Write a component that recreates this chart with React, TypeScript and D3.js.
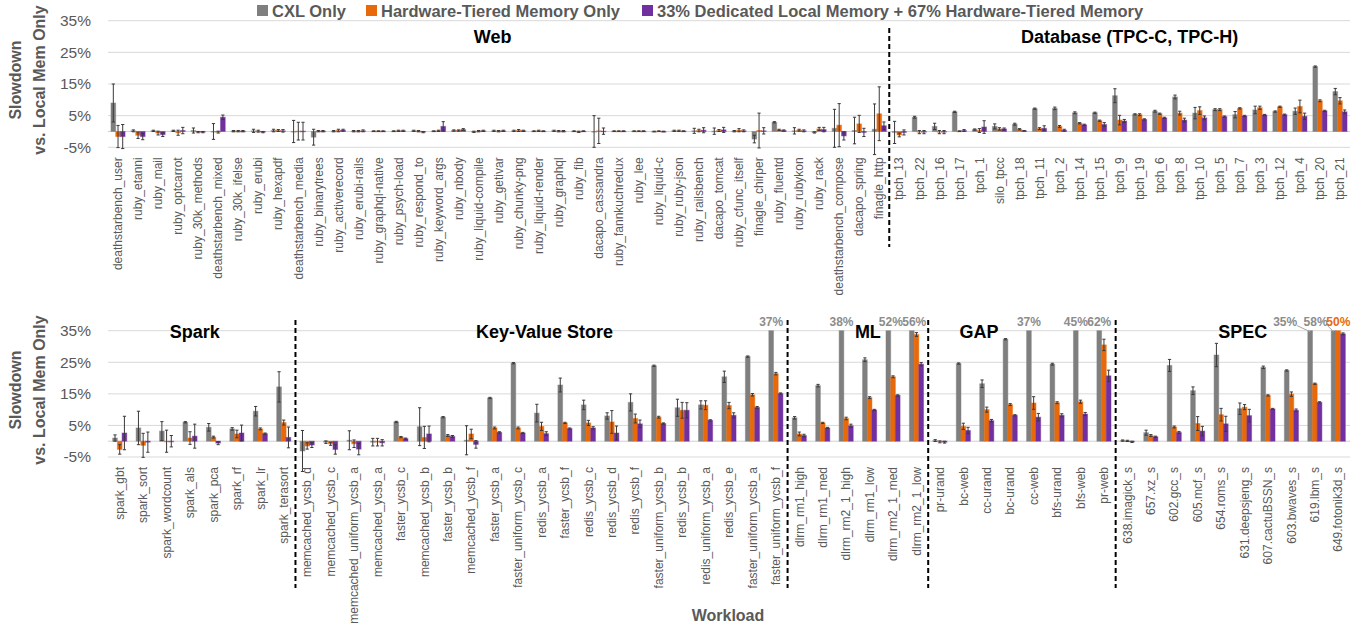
import React from 'react';
import * as d3 from 'd3';

const seriesNames = ['CXL Only', 'Hardware-Tiered Memory Only', '33% Dedicated Local Memory + 67% Hardware-Tiered Memory'];
const colors = ['#7F7F7F', '#E8690A', '#7030A0'];
const yTicks = [-5, 5, 15, 25, 35];

// ---------- Top panel ----------
const topCategories = [
  'deathstarbench_user', 'ruby_etanni', 'ruby_mail', 'ruby_optcarrot', 'ruby_30k_methods', 'deathstarbench_mixed',
  'ruby_30k_ifelse', 'ruby_erubi', 'ruby_hexapdf', 'deathstarbench_media', 'ruby_binarytrees', 'ruby_activerecord',
  'ruby_erubi-rails', 'ruby_graphql-native', 'ruby_psych-load', 'ruby_respond_to', 'ruby_keyword_args', 'ruby_nbody',
  'ruby_liquid-compile', 'ruby_getivar', 'ruby_chunky-png', 'ruby_liquid-render', 'ruby_graphql', 'ruby_fib',
  'dacapo_cassandra', 'ruby_fannkuchredux', 'ruby_lee', 'ruby_liquid-c', 'ruby_ruby-json', 'ruby_railsbench',
  'dacapo_tomcat', 'ruby_cfunc_itself', 'finagle_chirper', 'ruby_fluentd', 'ruby_rubykon', 'ruby_rack',
  'deathstarbench_compose', 'dacapo_spring', 'finagle_http',
  'tpch_13', 'tpch_22', 'tpch_16', 'tpch_17', 'tpch_1', 'silo_tpcc', 'tpch_18', 'tpch_11', 'tpch_2', 'tpch_14',
  'tpch_15', 'tpch_9', 'tpch_19', 'tpch_6', 'tpch_8', 'tpch_10', 'tpch_5', 'tpch_7', 'tpch_3', 'tpch_12', 'tpch_4',
  'tpch_20', 'tpch_21',
];
const topCXL = [
  9.0, 0.2, 0.2, 0.2, 0.3, 0.0, 0.1, 0.2, 0.3, 0.0, -1.8, 0.1, 0.1, 0.1, 0.1, 0.2, 0.1, 0.3, -0.1, 0.2, 0.2, 0.1, 0.2, 0.1,
  0.0, 0.1, 0.1, 0.0, 0.2, 0.2, 0.1, 0.1, -2.4, 2.9, 0.2, -0.3, 1.0, 0.3, 0.7,
  -0.3, 4.5, 1.6, 6.2, 0.6, 1.6, 2.3, 7.2, 7.3, 5.9, 5.9, 11.3, 5.4, 6.4, 10.9, 5.8, 6.9, 5.3, 6.8, 6.3, 6.4, 20.5, 12.6,
];
const topHW = [
  -1.6, -1.2, -0.5, -0.4, -0.2, -0.2, 0.1, 0.1, 0.3, 0.1, 0.1, 0.3, 0.1, 0.1, 0.2, 0.1, 0.2, 0.3, 0.1, 0.1, 0.3, 0.2, 0.1, -0.1,
  0.2, 0.1, 0.1, 0.1, 0.2, 0.3, 0.3, 0.4, 0.3, 0.5, 0.4, 0.8, 2.0, 2.4, 5.6,
  -1.1, -0.2, -0.2, 0.1, 0.3, 0.8, 0.7, 0.9, 1.6, 2.6, 3.4, 3.6, 5.3, 5.6, 5.8, 6.6, 6.9, 7.3, 7.5, 7.8, 7.9, 9.7, 9.7,
];
const topMixed = [
  -1.6, -1.6, -1.0, 0.3, -0.2, 4.5, 0.1, -0.2, 0.2, 0.1, 0.1, 0.4, 0.2, 0.1, 0.2, -0.2, 1.6, 0.6, 0.2, 0.2, 0.2, 0.1, 0.1, 0.1,
  0.1, 0.1, 0.1, 0.0, 0.1, 0.4, 0.5, 0.2, 0.2, 0.3, 0.2, 0.6, -1.4, -0.3, 1.8,
  -0.3, -0.2, -0.2, 0.3, 1.4, 0.8, 0.2, 1.0, 0.4, 2.1, 2.2, 3.3, 3.8, 4.3, 3.6, 4.3, 4.7, 4.9, 5.2, 5.3, 4.8, 6.5, 6.2,
];
const topErrCXL = [
  6.0, 0.3, 0.2, 0.2, 0.8, 2.5, 0.2, 0.5, 0.4, 3.5, 2.5, 0.2, 0.2, 0.1, 0.1, 0.2, 0.1, 0.2, 0.2, 0.2, 0.2, 0.1, 0.2, 0.1,
  5.0, 0.1, 0.1, 0.1, 0.2, 0.8, 1.0, 0.2, 1.2, 0.2, 1.0, 0.2, 6.0, 4.2, 8.0,
  3.5, 0.3, 1.0, 0.2, 0.2, 0.8, 0.3, 0.2, 0.4, 0.3, 0.2, 2.2, 0.2, 0.3, 0.6, 1.8, 0.3, 1.0, 1.2, 0.2, 1.0, 0.2, 1.0,
];
const topErrHW = [
  3.5, 1.0, 0.6, 0.8, 0.2, 0.3, 0.2, 0.3, 0.3, 2.8, 0.2, 0.4, 0.2, 0.1, 0.2, 0.2, 0.2, 0.2, 0.2, 0.2, 0.3, 0.2, 0.2, 0.2,
  4.0, 0.1, 0.1, 0.1, 0.2, 0.4, 0.3, 0.5, 5.5, 0.2, 0.3, 0.5, 6.8, 2.7, 8.5,
  0.6, 0.5, 0.5, 0.1, 0.6, 0.4, 0.2, 0.3, 0.3, 0.2, 0.2, 1.5, 0.3, 0.2, 0.6, 1.2, 0.3, 0.2, 0.5, 0.2, 2.0, 0.3, 1.0,
];
const topErrMixed = [
  3.8, 1.0, 0.6, 1.0, 0.2, 0.7, 0.2, 0.2, 0.4, 2.8, 0.2, 0.3, 0.3, 0.1, 0.2, 0.2, 1.5, 0.3, 0.2, 0.2, 0.2, 0.1, 0.2, 0.1,
  1.0, 0.1, 0.1, 0.1, 0.1, 0.8, 0.8, 0.3, 1.0, 0.2, 0.3, 0.7, 1.3, 1.3, 1.2,
  0.8, 0.5, 0.5, 0.3, 2.0, 0.3, 0.1, 0.8, 0.3, 0.2, 0.6, 0.5, 0.2, 0.2, 0.6, 0.6, 0.2, 0.2, 0.2, 0.2, 1.0, 0.2, 0.6,
];
const topSections = ['Web', 'Database (TPC-C, TPC-H)'];
const topSectionSizes = [39, 23];

// ---------- Bottom panel ----------
const bottomCategories = [
  'spark_gbt', 'spark_sort', 'spark_wordcount', 'spark_als', 'spark_pca', 'spark_rf', 'spark_lr', 'spark_terasort',
  'memcached_ycsb_d', 'memcached_ycsb_c', 'memcached_uniform_ycsb_a', 'memcached_ycsb_a', 'faster_ycsb_c',
  'memcached_ycsb_b', 'faster_ycsb_b', 'memcached_ycsb_f', 'faster_ycsb_a', 'faster_uniform_ycsb_c', 'redis_ycsb_a',
  'faster_ycsb_f', 'redis_ycsb_c', 'redis_ycsb_d', 'redis_ycsb_f', 'faster_uniform_ycsb_b', 'redis_ycsb_b',
  'redis_uniform_ycsb_a', 'redis_ycsb_e', 'faster_uniform_ycsb_a', 'faster_uniform_ycsb_f',
  'dlrm_rm1_high', 'dlrm_rm1_med', 'dlrm_rm2_1_high', 'dlrm_rm1_low', 'dlrm_rm2_1_med', 'dlrm_rm2_1_low',
  'pr-urand', 'bc-web', 'cc-urand', 'bc-urand', 'cc-web', 'bfs-urand', 'bfs-web', 'pr-web',
  '638.imagick_s', '657.xz_s', '602.gcc_s', '605.mcf_s', '654.roms_s', '631.deepsjeng_s', '607.cactuBSSN_s',
  '603.bwaves_s', '619.lbm_s', '649.fotonik3d_s',
];
const bottomCXL = [
  1.0, 4.2, 3.2, 6.0, 4.4, 3.9, 9.5, 17.2,
  -3.1, -0.3, 0.3, -0.3, 6.1, 4.6, 7.6, 0.3, 13.7, 24.7, 8.9, 17.8, 11.5, 8.0, 12.3, 23.9, 10.6, 11.5, 20.4, 26.8, 37,
  7.4, 17.6, 38, 25.8, 52, 56,
  0.2, 24.6, 18.2, 32.3, 37, 24.4, 45, 62,
  0.2, 2.7, 24.0, 16.0, 27.3, 10.3, 23.4, 22.4, 35, 58,
];
const bottomHW = [
  -2.6, -1.3, 0.0, 1.0, 1.3, 2.3, 3.9, 5.9,
  -1.5, -0.8, -0.8, -0.3, 1.3, 1.2, 1.8, 2.3, 4.2, 4.2, 4.7, 5.8, 5.8, 6.1, 7.2, 7.6, 9.8, 11.4, 11.3, 14.7, 21.4,
  2.3, 5.8, 7.2, 13.8, 20.4, 33.8,
  -0.2, 4.7, 10.0, 11.6, 12.1, 12.2, 12.5, 30.5,
  0.1, 1.8, 4.5, 5.6, 8.4, 10.8, 14.5, 14.9, 18.2, 50,
];
const bottomMixed = [
  2.6, -0.3, 0.0, 1.6, -0.6, 2.6, 2.4, 1.2,
  -1.2, -2.6, -2.5, -0.5, 0.8, 2.3, 1.5, -1.0, 2.8, 2.6, 2.4, 4.0, 4.2, 2.6, 5.5, 5.6, 9.8, 6.6, 8.2, 10.7, 15.1,
  1.8, 4.2, 4.9, 9.9, 14.5, 24.4,
  -0.3, 3.4, 6.5, 8.2, 7.6, 8.2, 8.6, 20.7,
  -0.2, 1.4, 2.8, 3.2, 5.5, 8.1, 10.2, 9.8, 12.3, 34,
];
const bottomErrCXL = [
  1.0, 5.3, 3.0, 0.2, 1.2, 0.4, 1.5, 4.8,
  6.5, 0.4, 3.0, 1.2, 0.2, 6.0, 0.2, 4.6, 0.2, 0.2, 2.8, 2.2, 1.5, 1.0, 2.7, 0.2, 2.7, 1.3, 1.8, 0.2, 0,
  0.4, 0.4, 0, 0.6, 0, 0,
  0.3, 0.2, 1.2, 0.2, 0, 0.3, 0, 0,
  0.2, 0.8, 1.9, 1.2, 3.7, 1.8, 0.4, 0.2, 0, 0,
];
const bottomErrHW = [
  1.5, 3.8, 3.5, 2.0, 0.3, 1.2, 0.3, 0.8,
  1.0, 0.5, 1.2, 1.2, 0.2, 3.5, 0.3, 1.5, 0.3, 0.3, 1.3, 0.2, 0.8, 3.6, 1.4, 0.3, 2.5, 1.4, 1.0, 0.4, 0.4,
  0.6, 0.2, 0.4, 0.3, 0.3, 0.6,
  0.3, 1.0, 0.8, 0.3, 2.0, 0.3, 0.5, 1.8,
  0.2, 0.3, 0.3, 2.2, 2.0, 0.8, 0.2, 0.7, 0.2, 0,
];
const bottomErrMixed = [
  5.3, 3.2, 1.8, 3.8, 0.5, 2.5, 0.2, 3.3,
  0.8, 1.5, 1.8, 1.0, 0.2, 2.5, 0.3, 1.2, 0.2, 0.2, 0.6, 0.2, 0.4, 2.2, 1.2, 0.2, 2.4, 0.2, 0.8, 0.3, 0.2,
  0.4, 0.2, 0.5, 0.2, 0.2, 0.5,
  0.3, 1.0, 0.4, 0.2, 1.2, 0.5, 0.5, 1.8,
  0.2, 0.2, 0.3, 1.5, 2.4, 2.0, 0.2, 0.4, 0.2, 0.3,
];
const bottomSections = ['Spark', 'Key-Value Store', 'ML', 'GAP', 'SPEC'];
const bottomSectionSizes = [8, 21, 6, 8, 10];

// value labels for bars that run past the top of the axis: [category, series index]
const bottomValueLabels: [string, number][] = [
  ['faster_uniform_ycsb_f', 0], ['dlrm_rm2_1_high', 0], ['dlrm_rm2_1_med', 0], ['dlrm_rm2_1_low', 0],
  ['cc-web', 0], ['bfs-web', 0], ['pr-web', 0], ['619.lbm_s', 0], ['649.fotonik3d_s', 0], ['649.fotonik3d_s', 1],
];

// ---------- layout / style ----------
const X0 = 108, X1 = 1350;
const TEXT = '#595959';
const SANS = '"Liberation Sans", Arial, sans-serif';
const topTitleDx = [-6, 10];
const bottomTitleDx = [-7, 3, 10, -43, 10];
const labelShift: Record<string, number> = { '619.lbm_s|0': -25, '649.fotonik3d_s|0': -18, 'dlrm_rm2_1_med|0': 2.5, 'dlrm_rm2_1_low|0': 2.5 };
const leaderLabels = new Set(['619.lbm_s|0', '649.fotonik3d_s|0']);

type PanelProps = {
  cats: string[]; series: number[][]; errs: number[][]; yTop: number; yBot: number;
  sections: string[]; sizes: number[]; titleDx: number[]; titleY: number;
  dividerTop: number; dividerBottom: number; valueLabels?: [string, number][];
};

function Panel(p: PanelProps) {
  const x = d3.scaleBand<string>().domain(p.cats).range([X0, X1]).paddingInner(0).paddingOuter(0);
  const y = d3.scaleLinear().domain([-5, 35]).range([p.yBot, p.yTop]);
  const bw = 4.7;
  const xs = d3.scaleBand<string>().domain(['0', '1', '2']).range([-1.5 * bw, 1.5 * bw]);
  const y0 = y(0);
  const clamp = (v: number) => Math.max(-5, Math.min(35, v));

  const bounds: number[] = [];
  let acc = 0;
  p.sizes.forEach((s) => { bounds.push(acc); acc += s; });

  return (
    <g>
      {yTicks.map((t) => (
        <g key={t}>
          <line x1={X0} x2={X1} y1={y(t)} y2={y(t)} stroke="#D9D9D9" strokeWidth={1} />
          <text x={91} y={y(t)} dy="0.35em" textAnchor="end" fontSize={15.5} fill={TEXT} fontFamily={SANS}>{t}%</text>
        </g>
      ))}
      <line x1={X0} x2={X1} y1={y0} y2={y0} stroke="#D0D0D0" strokeWidth={1} />
      {p.series.map((vals, si) => (
        <g key={si}>
          {vals.map((v, i) => {
            const cx = (x(p.cats[i]) as number) + x.bandwidth() / 2 + (xs(String(si)) as number) + bw / 2;
            const cv = clamp(v);
            const top = y(Math.max(cv, 0));
            const bot = y(Math.min(cv, 0));
            return (
              <rect key={i} x={cx - bw / 2} y={top} width={bw} height={Math.max(bot - top, 0.6)}
                fill={colors[si]} stroke={colors[si]} strokeOpacity={0.45} strokeWidth={1} />
            );
          })}
        </g>
      ))}
      {p.series.map((vals, si) => (
        <g key={'e' + si} stroke="#3A3A3A" strokeWidth={1}>
          {vals.map((v, i) => {
            const e = p.errs[si][i];
            if (v >= 35 || e <= 0) return null;
            const cx = (x(p.cats[i]) as number) + x.bandwidth() / 2 + (xs(String(si)) as number) + bw / 2;
            const a = y(Math.min(v + e, 35));
            const b = y(v - e);
            return (
              <g key={i}>
                <line x1={cx} x2={cx} y1={a} y2={b} />
                <line x1={cx - 1.6} x2={cx + 1.6} y1={a} y2={a} />
                <line x1={cx - 1.6} x2={cx + 1.6} y1={b} y2={b} />
              </g>
            );
          })}
        </g>
      ))}
      {p.cats.map((c) => (
        <text key={c} transform={`translate(${(x(c) as number) + x.bandwidth() / 2},${p.yBot + 10}) rotate(-90)`}
          textAnchor="end" dy="0.35em" fontSize={12} fill={TEXT} fontFamily={SANS}>{c}</text>
      ))}
      {bounds.slice(1).map((b, i) => {
        const bx = x(p.cats[b]) as number;
        return <line key={i} x1={bx} x2={bx} y1={p.dividerTop} y2={p.dividerBottom} stroke="#000" strokeWidth={2} strokeDasharray="5,3" />;
      })}
      {p.sections.map((s, i) => {
        const sx = (x(p.cats[bounds[i]]) as number);
        const ex = (x(p.cats[bounds[i] + p.sizes[i] - 1]) as number) + x.bandwidth();
        return (
          <text key={s} x={(sx + ex) / 2 + p.titleDx[i]} y={p.titleY} textAnchor="middle" fontSize={18}
            fontWeight="bold" fill="#000" fontFamily={SANS}>{s}</text>
        );
      })}
      {(p.valueLabels || []).map(([c, si], k) => {
        const i = p.cats.indexOf(c);
        const v = p.series[si][i];
        const cx = (x(c) as number) + x.bandwidth() / 2 + (xs(String(si)) as number) + bw / 2;
        const key = c + '|' + si;
        const shift = labelShift[key] || 0;
        const ty = p.yTop - 5;
        return (
          <g key={k}>
            {leaderLabels.has(key) && (
              <line x1={cx + shift + 12} y1={ty} x2={cx} y2={p.yTop + 1} stroke="#A6A6A6" strokeWidth={1} />
            )}
            <text x={cx + shift} y={ty} textAnchor="middle" fontSize={12} fontWeight="bold"
              fill={si === 1 ? colors[1] : '#8C8C8C'} fontFamily={SANS}>{v}%</text>
          </g>
        );
      })}
    </g>
  );
}

function YTitle({ cy }: { cy: number }) {
  return (
    <g transform={`translate(0,${cy})`} fontFamily={SANS} fontWeight="bold" fontSize={16} fill={TEXT} textAnchor="middle">
      <text transform="translate(21,0) rotate(-90)">Slowdown</text>
      <text transform="translate(45,0) rotate(-90)">vs. Local Mem Only</text>
    </g>
  );
}

export default function App() {
  const legendX = [257, 366, 642];
  return (
    <svg width={1361} height={630} style={{ display: 'block', position: 'absolute', left: 0, top: 0, background: '#fff' }}>
      <rect width={1361} height={630} fill="#fff" />
      <g fontFamily={SANS} fontWeight="bold" fontSize={16.5} fill={TEXT}>
        {seriesNames.map((s, i) => (
          <g key={s}>
            <rect x={legendX[i]} y={5} width={11} height={11} fill={colors[i]} />
            <text x={legendX[i] + 15} y={16.5}>{s}</text>
          </g>
        ))}
      </g>
      <YTitle cy={80} />
      <YTitle cy={390} />
      <Panel cats={topCategories} series={[topCXL, topHW, topMixed]} errs={[topErrCXL, topErrHW, topErrMixed]}
        yTop={20.7} yBot={147.3} sections={topSections} sizes={topSectionSizes} titleDx={topTitleDx} titleY={43}
        dividerTop={28} dividerBottom={247} />
      <Panel cats={bottomCategories} series={[bottomCXL, bottomHW, bottomMixed]} errs={[bottomErrCXL, bottomErrHW, bottomErrMixed]}
        yTop={330.7} yBot={457} sections={bottomSections} sizes={bottomSectionSizes} titleDx={bottomTitleDx} titleY={338}
        dividerTop={320} dividerBottom={588} valueLabels={bottomValueLabels} />
      <text x={728} y={621} textAnchor="middle" fontFamily={SANS} fontWeight="bold" fontSize={16} fill={TEXT}>Workload</text>
    </svg>
  );
}
